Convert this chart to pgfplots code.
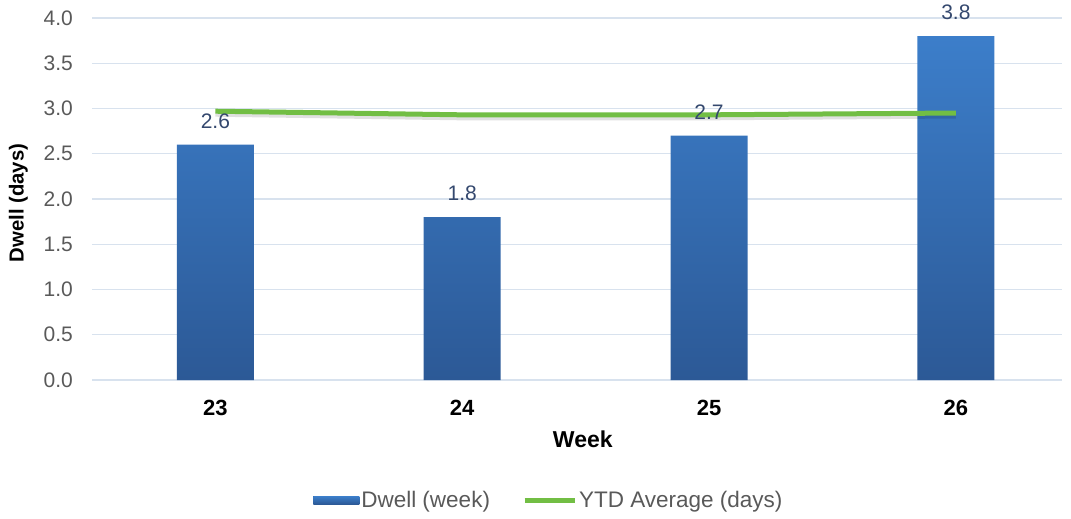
\documentclass[border=0pt]{standalone}
\usepackage{pgfplots}
\pgfplotsset{compat=1.18}
\usepackage{fontspec}
\setmainfont{Liberation Sans}
\definecolor{barTop}{RGB}{60,126,202}
\definecolor{barBot}{RGB}{44,89,150}
\definecolor{lineGreen}{RGB}{114,190,68}
\definecolor{gridC}{RGB}{216,226,238}
\definecolor{tickGray}{RGB}{89,89,89}
\definecolor{lblBlue}{RGB}{52,72,110}
\begin{document}
\begin{tikzpicture}
\begin{axis}[
  at={(0,0)}, anchor=south west,
  scale only axis,
  width=970pt, height=362pt,
  xmin=-0.5, xmax=3.43,
  ymin=0, ymax=4,
  ytick={0,0.5,...,4.0},
  xtick={0,1,2,3},
  xticklabels={23,24,25,26},
  axis line style={draw=none},
  major tick length=0pt,
  ymajorgrids,
  grid style={gridC, line width=1.3pt},
  clip=false,
  /pgf/number format/assume math mode=true,
  /pgf/number format/fixed,
  /pgf/number format/fixed zerofill,
  /pgf/number format/precision=1,
  yticklabel style={font=\fontsize{21}{25}\selectfont, text=tickGray, anchor=east, inner sep=0pt, xshift=-19pt},
  xticklabel style={font=\fontsize{22}{26}\selectfont\bfseries, text=black, anchor=north, inner sep=0pt, yshift=-20pt},
  xlabel={Week},
  ylabel={Dwell (days)},
  xlabel style={font=\fontsize{23}{27}\selectfont\bfseries, at={(axis description cs:0.506,-0.164)}, anchor=center},
  ylabel style={font=\fontsize{20.3}{24}\selectfont\bfseries, at={(axis description cs:-0.076,0.489)}, anchor=center, rotate=0},
  legend style={at={(axis description cs:0.471,-0.332)}, anchor=center, draw=none, fill=none,
    font=\fontsize{22.5}{26}\selectfont, text=tickGray, legend columns=2,
    /tikz/every even column/.append style={column sep=30pt}},
  legend cell align=left,
]
\addplot[ybar, bar width=77pt, draw=none, shading=axis, top color=barTop, bottom color=barBot,
  nodes near coords, point meta=explicit symbolic,
  every node near coord/.append style={font=\fontsize{21}{25}\selectfont, text=lblBlue, anchor=south, inner sep=0pt, yshift=16pt},
  legend image code/.code={\fill[barBot!80!barTop] (0pt,-4pt) rectangle (46pt,4pt);}]
  table[meta=label] {
x y label
0 2.6 2.6
1 1.8 1.8
2 2.7 2.7
3 3.8 3.8
};
\addlegendentry{Dwell (week)}
\addplot[black, opacity=0.12, line width=5pt, yshift=-3pt, forget plot] coordinates {
(0,2.97) (1,2.93) (2,2.93) (3,2.95)};
\addplot[lineGreen, line width=5pt,
  legend image code/.code={\draw[lineGreen, line width=5pt] (0pt,0pt) -- (50pt,0pt);}] coordinates {
(0,2.97) (1,2.93) (2,2.93) (3,2.95)};
\addlegendentry{YTD Average (days)}
\end{axis}
\pgfresetboundingbox
\path (-92pt,-139pt) rectangle (979pt,380pt);
\end{tikzpicture}
\end{document}
